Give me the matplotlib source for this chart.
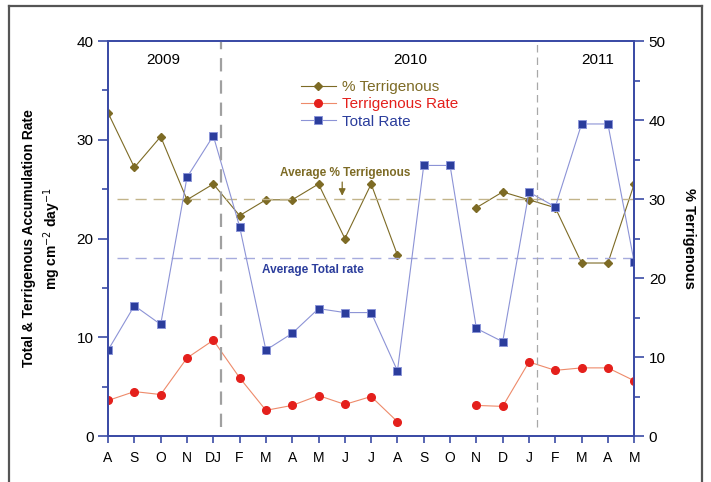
import numpy as np
import matplotlib
matplotlib.use("Agg")
import matplotlib.pyplot as plt
from matplotlib.lines import Line2D
from matplotlib.ticker import MultipleLocator

plt.rcParams['font.family'] = ['Liberation Sans', 'DejaVu Sans']

months = ['A', 'S', 'O', 'N', 'DJ', 'F', 'M', 'A', 'M', 'J', 'J', 'A',
          'S', 'O', 'N', 'D', 'J', 'F', 'M', 'A', 'M']
nan = np.nan
# total accumulation rate (left axis)
total_rate = [8.7, 13.2, 11.3, 26.2, 30.4, 21.2, 8.7, 10.4, 12.9, 12.5, 12.5, 6.6,
              27.4, 27.4, 10.9, 9.55, 24.7, 23.2, 31.6, 31.6, 17.6]
# terrigenous accumulation rate (left axis)
terr_rate = [3.6, 4.5, 4.2, 7.9, 9.7, 5.9, 2.6, 3.1, 4.1, 3.2, 4.0, 1.45,
             nan, nan, 3.1, 3.0, 7.5, 6.65, 6.9, 6.9, 5.6]
# % terrigenous (right axis)
pct_terr = [40.9, 34.0, 37.9, 29.9, 31.9, 27.9, 29.9, 29.9, 31.9, 25.0, 31.9, 22.9,
            nan, nan, 28.9, 30.9, 29.9, 28.9, 21.9, 21.9, 31.9]
avg_total = 18.0
avg_pct = 30.0
years = ['2009', '2010', '2011']
year_pos = [2.1, 11.5, 18.6]
year_breaks = [4.3, 16.3]

olive = '#7d6b25'
red = '#e4201c'
red_line = '#ee8a6a'
blue = '#2b3d9c'
blue_line = '#8c93d6'
axis_blue = '#3b4ba6'

x = np.arange(len(months))

fig = plt.figure(figsize=(7.11, 4.82), dpi=100)
ax = fig.add_axes([0.152, 0.0954, 0.74, 0.8195])
ax2 = ax.twinx()
ax.set_zorder(ax2.get_zorder() + 1)
ax.patch.set_visible(False)

# % terrigenous on right axis
l1, = ax2.plot(x, pct_terr, color=olive, lw=0.8, marker='D', ms=4.5,
               mfc=olive, mec=olive, label='% Terrigenous')
ax2.plot([0.35, 20], [avg_pct, avg_pct], ls=(0, (8, 5)), color='#c2b48a', lw=1.0)

ax.plot([0.35, 20], [avg_total, avg_total], ls=(0, (8, 5)), color='#a6abdd', lw=1.0)
l2, = ax.plot(x, terr_rate, color=red_line, lw=0.8, marker='o', ms=5.5,
              mfc=red, mec=red, label='Terrigenous Rate')
l3, = ax.plot(x, total_rate, color=blue_line, lw=0.8, marker='s', ms=6,
              mfc=blue, mec='#8a94d8', mew=0.7, label='Total Rate')

ax.plot([year_breaks[0]] * 2, [0.9, 40], ls=(0, (6, 4)), color='#a0a0a0', lw=1.6)
ax.plot([year_breaks[1]] * 2, [0.9, 40], ls=(0, (6, 4)), color='#a8a8a8', lw=0.9)
for yp, yl in zip(year_pos, years):
    ax.text(yp, 38.1, yl, ha='center', va='center', fontsize=11)

ax.text(9.0, 26.6, 'Average % Terrigenous', ha='center', va='center',
        fontsize=8.5, fontweight='bold', color=olive)
ax.annotate('', xy=(8.9, 24.05), xytext=(8.9, 26.0),
            arrowprops=dict(arrowstyle='-|>', color=olive, lw=0.9,
                            mutation_scale=10))
ax.text(7.8, 16.8, 'Average Total rate', ha='center', va='center',
        fontsize=8.5, fontweight='bold', color=blue)

leg = ax.legend(handles=[l1, l2, l3], loc='upper left',
                bbox_to_anchor=(0.34, 0.935), frameon=False, fontsize=11,
                handlelength=2.3, handletextpad=0.4, labelspacing=0.2)
for t, c in zip(leg.get_texts(), [olive, red, blue]):
    t.set_color(c)

ax.set_xlim(0, 20)
ax.set_ylim(0, 40)
ax2.set_ylim(0, 50)
ax.set_xticks(x)
ax.set_xticklabels(months, fontsize=10)
ax.yaxis.set_major_locator(MultipleLocator(10))
ax.yaxis.set_minor_locator(MultipleLocator(5))
ax2.yaxis.set_major_locator(MultipleLocator(10))
ax2.yaxis.set_minor_locator(MultipleLocator(5))
ax.tick_params(axis='y', labelsize=11, color=axis_blue, length=7, width=1.2)
ax.tick_params(axis='y', which='minor', color=axis_blue, length=4, width=1.2)
ax.tick_params(axis='x', color=axis_blue, length=5, width=1.2, pad=6)
ax2.tick_params(axis='y', labelsize=11, color=axis_blue, length=7, width=1.2)
ax2.tick_params(axis='y', which='minor', color=axis_blue, length=4, width=1.2)
for a in (ax, ax2):
    for s in a.spines.values():
        s.set_color(axis_blue)
        s.set_linewidth(1.3)

ax.set_ylabel('Total & Terrigenous Accumulation Rate\nmg cm$^{-2}$ day$^{-1}$',
              fontsize=10, fontweight='bold', labelpad=10, linespacing=1.35)
ax2.set_ylabel('% Terrigenous', fontsize=10.5, fontweight='bold',
               rotation=270, labelpad=22)

# outer frame
fig.add_artist(Line2D([9 / 711, 9 / 711], [0, 1 - 6 / 482], color='#555555', lw=1.6))
fig.add_artist(Line2D([9 / 711, 702 / 711], [1 - 6 / 482, 1 - 6 / 482], color='#555555', lw=1.6))
fig.add_artist(Line2D([702 / 711, 702 / 711], [0, 1 - 6 / 482], color='#555555', lw=1.6))

fig.savefig('out.png', dpi=100)
